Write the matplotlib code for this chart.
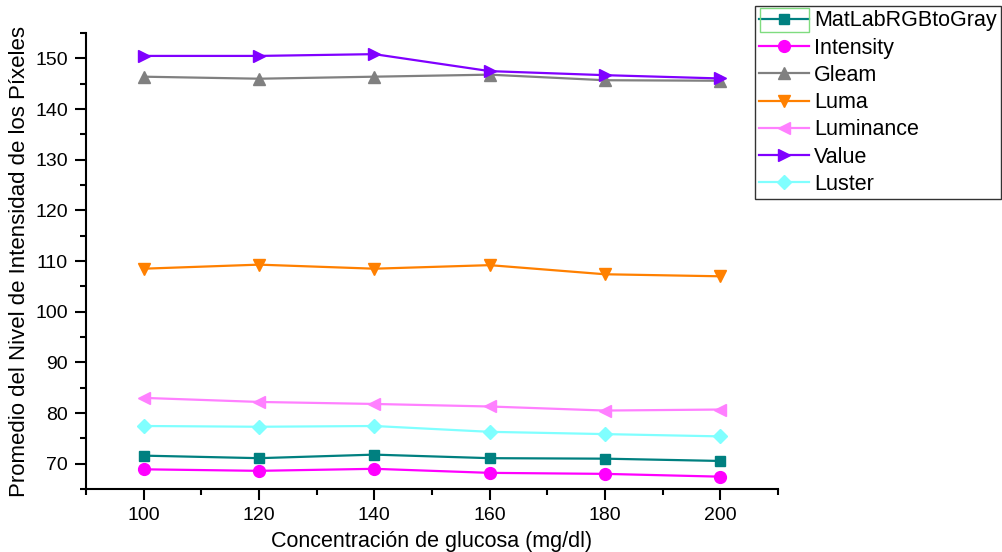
import matplotlib
matplotlib.use("Agg")
import matplotlib.pyplot as plt
from matplotlib.ticker import MultipleLocator
from matplotlib.patches import Rectangle

plt.rcParams['font.family'] = ['Liberation Sans', 'DejaVu Sans']

# Glucose concentrations (mg/dl)
glucosa = [100, 120, 140, 160, 180, 200]

# Mean pixel intensity for each grayscale conversion method
matlab_rgb2gray = [71.6, 71.1, 71.8, 71.1, 71.0, 70.55]
intensity = [68.9, 68.6, 69.0, 68.2, 68.0, 67.45]
gleam = [146.4, 146.0, 146.4, 146.8, 145.7, 145.6]
luma = [108.5, 109.3, 108.5, 109.2, 107.4, 107.0]
luminance = [83.0, 82.2, 81.8, 81.3, 80.5, 80.7]
value = [150.5, 150.5, 150.85, 147.5, 146.7, 146.05]
luster = [77.45, 77.3, 77.45, 76.3, 75.85, 75.4]

series = [
    ("MatLabRGBtoGray", matlab_rgb2gray, "#008080", "s", 7.5),
    ("Intensity", intensity, "#FF00FF", "o", 8.5),
    ("Gleam", gleam, "#808080", "^", 8.5),
    ("Luma", luma, "#FF8000", "v", 8.5),
    ("Luminance", luminance, "#FF80FF", "<", 8.5),
    ("Value", value, "#8000FF", ">", 8.5),
    ("Luster", luster, "#80FFFF", "D", 7.5),
]

W, H = 1002, 552
fig = plt.figure(figsize=(W / 100, H / 100), dpi=100)
ax = fig.add_axes([0.0858, 0.114, 0.6906, 0.826])

for name, vals, color, marker, ms in series:
    ax.plot(glucosa, vals, color=color, marker=marker, markersize=ms,
            linewidth=1.6, label=name)

ax.set_xlim(90, 210)
ax.set_ylim(65, 155)
ax.xaxis.set_major_locator(MultipleLocator(20))
ax.xaxis.set_minor_locator(MultipleLocator(10))
ax.yaxis.set_major_locator(MultipleLocator(10))
ax.yaxis.set_minor_locator(MultipleLocator(5))

for side in ("top", "right"):
    ax.spines[side].set_visible(False)
for side in ("left", "bottom"):
    ax.spines[side].set_linewidth(1.5)

ax.tick_params(which="major", direction="out", length=8, width=1.5,
               labelsize=14, pad=5)
ax.tick_params(which="minor", direction="out", length=4, width=1.5)

ax.set_xlabel("Concentración de glucosa (mg/dl)", fontsize=15.5, labelpad=5)
ax.set_ylabel("Promedio del Nivel de Intensidad de los Píxeles", fontsize=16,
              labelpad=4)

leg = fig.legend(loc="upper left", bbox_to_anchor=(755 / W, 1 - 6 / H),
                 fontsize=15.5, frameon=True, fancybox=False,
                 handlelength=2.3, handletextpad=0.25, borderpad=0.2,
                 labelspacing=0.29, borderaxespad=0.0)
leg.get_frame().set_edgecolor("black")
leg.get_frame().set_linewidth(1.0)

# Selection highlight around the first legend entry's symbol
fig.patches.append(Rectangle((760 / W, 1 - 32 / H), 49 / W, 24 / H,
                             transform=fig.transFigure, fill=False,
                             edgecolor="#7FDC7F", linewidth=1.0, zorder=10))

fig.savefig("out.png", dpi=100)
